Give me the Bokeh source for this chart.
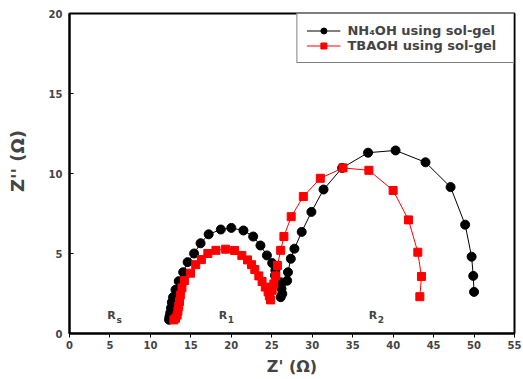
from bokeh.plotting import figure
from bokeh.models import FixedTicker, Label, Range1d, Legend, LegendItem
from bokeh.embed import file_html
from bokeh.resources import INLINE

# NH4OH using sol-gel (black circles)
nh4_x = [12.3, 12.35, 12.45, 12.55, 12.65, 12.8, 13.1, 13.5, 14.05, 14.6, 15.4, 16.2,
         17.2, 18.7, 20.0, 21.5, 22.7, 23.6, 24.4, 25.05, 25.45, 25.4, 26.1, 26.2, 26.3,
         26.1, 26.9, 27.0, 27.35, 27.8, 28.7, 29.9, 31.4, 33.7, 36.9, 40.3, 44.0, 47.1,
         48.9, 49.7, 49.9, 50.0]
nh4_y = [0.86, 1.05, 1.3, 1.6, 1.95, 2.27, 2.73, 3.27, 3.83, 4.46, 5.0, 5.64,
         6.2, 6.5, 6.6, 6.44, 6.06, 5.5, 4.88, 4.4, 3.95, 3.63, 3.2, 2.8, 2.48,
         2.27, 3.3, 3.83, 4.67, 5.3, 6.35, 7.6, 9.0, 10.35, 11.3, 11.44, 10.7, 9.15,
         6.8, 4.8, 3.6, 2.6]

# TBAOH using sol-gel (red squares)
tba_x = [12.9, 13.1, 13.3, 13.4, 13.5, 13.6, 13.7, 13.9, 14.2, 14.96, 15.6, 16.3,
         17.1, 18.1, 19.3, 20.4, 21.3, 22.0, 22.5, 22.9, 23.4, 23.8, 24.2, 24.55, 24.7,
         24.85, 25.05, 25.25, 25.5, 25.7, 26.1, 26.5, 27.4, 28.9, 31.0, 33.8, 37.0, 40.0,
         41.9, 43.05, 43.5, 43.3]
tba_y = [0.85, 0.95, 1.15, 1.4, 1.7, 2.0, 2.4, 2.85, 3.3, 3.77, 4.3, 4.62,
         5.0, 5.2, 5.27, 5.19, 4.88, 4.6, 4.3, 4.0, 3.6, 3.25, 2.9, 2.6, 2.35,
         2.1, 2.7, 3.1, 3.6, 4.25, 5.2, 6.06, 7.3, 8.56, 9.7, 10.35, 10.2, 8.94,
         7.1, 5.08, 3.56, 2.3]

x_ticks = [0, 5, 10, 15, 20, 25, 30, 35, 40, 45, 50, 55]
y_ticks = [0, 5, 10, 15, 20]

FONT = "DejaVu Sans"

p = figure(width=522, height=378, output_backend="svg", toolbar_location=None,
           x_range=Range1d(0, 55), y_range=Range1d(0, 20),
           min_border_left=69, min_border_right=8, min_border_top=13, min_border_bottom=45)
p.xgrid.visible = False
p.ygrid.visible = False
p.outline_line_color = "black"
p.outline_line_width = 2

l1 = p.line(nh4_x, nh4_y, line_color="black", line_width=1)
s1 = p.scatter(nh4_x, nh4_y, marker="circle", size=9, fill_color="black", line_color="black")
l2 = p.line(tba_x, tba_y, line_color="red", line_width=1)
s2 = p.scatter(tba_x, tba_y, marker="square", size=8, fill_color="red", line_color="red")

legend = Legend(items=[LegendItem(label="NH\u2084OH using sol-gel\u00a0\u00a0", renderers=[l1, s1]),
                       LegendItem(label="TBAOH using sol-gel", renderers=[l2, s2])],
                location="top_right")
legend.label_text_font = FONT
legend.label_text_font_style = "bold"
legend.label_text_font_size = "13px"
legend.border_line_color = "black"
legend.border_line_width = 1
legend.margin = 0
legend.padding = 9
legend.spacing = 0
legend.glyph_width = 34
legend.glyph_height = 15
legend.label_height = 15
legend.label_standoff = 7
legend.background_fill_alpha = 1
p.add_layout(legend)

for ax in (p.xaxis[0], p.yaxis[0]):
    ax.axis_line_width = 2
    ax.major_tick_line_width = 1
    ax.minor_tick_line_color = None
    ax.major_label_text_font = FONT
    ax.major_label_text_font_style = "bold"
    ax.major_label_text_font_size = "10px"
    ax.axis_label_text_font = FONT
    ax.axis_label_text_font_style = "bold"

p.xaxis.axis_label_text_font_size = "16px"
p.yaxis.axis_label_text_font_size = "18px"
p.xaxis.ticker = FixedTicker(ticks=x_ticks)
p.yaxis.ticker = FixedTicker(ticks=y_ticks)
p.xaxis.major_tick_out = 4
p.xaxis.major_tick_in = 0
p.yaxis.major_tick_out = 0
p.yaxis.major_tick_in = 4
p.xaxis.major_label_standoff = 3
p.yaxis.major_label_standoff = 7
p.xaxis.axis_label = "Z' (\u03a9)"
p.yaxis.axis_label = "\u00a0\u00a0\u00a0\u00a0Z'' (\u03a9)"
p.xaxis.axis_label_standoff = 5
p.yaxis.axis_label_standoff = 18

# R annotations
r_main = [(4.66, "R", "s"), (18.45, "R", "1"), (37.0, "R", "2")]
r_sub_x = [5.8, 19.57, 38.1]
for (xr, t, sub), xs in zip(r_main, r_sub_x):
    p.add_layout(Label(x=xr, y=1.1, text=t, text_font=FONT, text_font_style="bold",
                       text_font_size="11px", text_baseline="alphabetic"))
    p.add_layout(Label(x=xs, y=0.87, text=sub, text_font=FONT, text_font_style="bold",
                       text_font_size="9px", text_baseline="alphabetic"))

open("out.html", "w").write(file_html(p, INLINE))
